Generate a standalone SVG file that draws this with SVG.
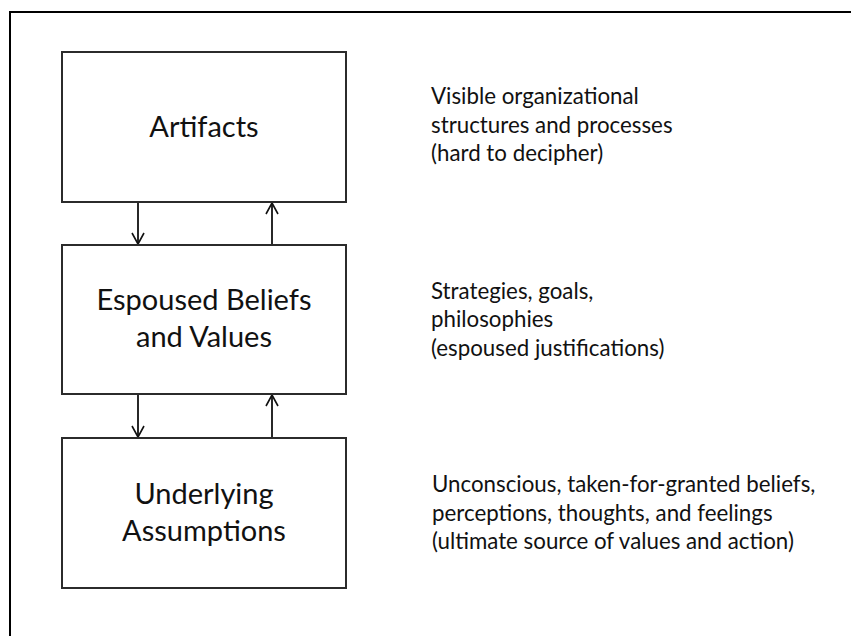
<svg xmlns="http://www.w3.org/2000/svg" width="851" height="636" viewBox="0 0 851 636">
<defs>
<style>
.frame{fill:none;stroke:#000;stroke-width:2}
.box{fill:#fff;stroke:#2b2b2b;stroke-width:2}
.lbl{font-family:Lato,"Open Sans","Liberation Sans",sans-serif;font-size:29px;fill:#111;text-anchor:middle}
.desc{font-family:Lato,"Open Sans","Liberation Sans",sans-serif;font-size:22.3px;fill:#111}
.conn{fill:none;stroke:#111;stroke-width:1.8}
</style>
<marker id="ah" viewBox="0 0 14 14" refX="12" refY="7" markerWidth="14" markerHeight="14" markerUnits="userSpaceOnUse" orient="auto">
<path d="M1,1 L12,7 L1,13" fill="none" stroke="#111" stroke-width="1.6"/>
</marker>
</defs>
<rect width="851" height="636" fill="#fff"/>
<path class="frame" d="M10,636 L10,12 L851,12"/>
<g id="connectors">
<line class="conn" x1="138" y1="202" x2="138" y2="244" marker-end="url(#ah)"/>
<line class="conn" x1="272" y1="245" x2="272" y2="203" marker-end="url(#ah)"/>
<line class="conn" x1="138" y1="394" x2="138" y2="437" marker-end="url(#ah)"/>
<line class="conn" x1="272" y1="438" x2="272" y2="395" marker-end="url(#ah)"/>
</g>
<g id="artifacts">
<rect class="box" x="62" y="52" width="284" height="150"/>
<text class="lbl" x="204" y="137">Artifacts</text>
</g>
<g id="espoused">
<rect class="box" x="62" y="245" width="284" height="149"/>
<text class="lbl" x="204" y="310">Espoused Beliefs</text>
<text class="lbl" x="204" y="347">and Values</text>
</g>
<g id="underlying">
<rect class="box" x="62" y="438" width="284" height="150"/>
<text class="lbl" x="204" y="504">Underlying</text>
<text class="lbl" x="204" y="541">Assumptions</text>
</g>
<g id="desc-artifacts">
<text class="desc" x="431" y="104">Visible organizational</text>
<text class="desc" x="431" y="133">structures and processes</text>
<text class="desc" x="431" y="161">(hard to decipher)</text>
</g>
<g id="desc-espoused">
<text class="desc" x="431" y="299">Strategies, goals,</text>
<text class="desc" x="431" y="327">philosophies</text>
<text class="desc" x="431" y="356">(espoused justifications)</text>
</g>
<g id="desc-underlying">
<text class="desc" x="432" y="492">Unconscious, taken-for-granted beliefs,</text>
<text class="desc" x="432" y="521">perceptions, thoughts, and feelings</text>
<text class="desc" x="432" y="549">(ultimate source of values and action)</text>
</g>
</svg>
